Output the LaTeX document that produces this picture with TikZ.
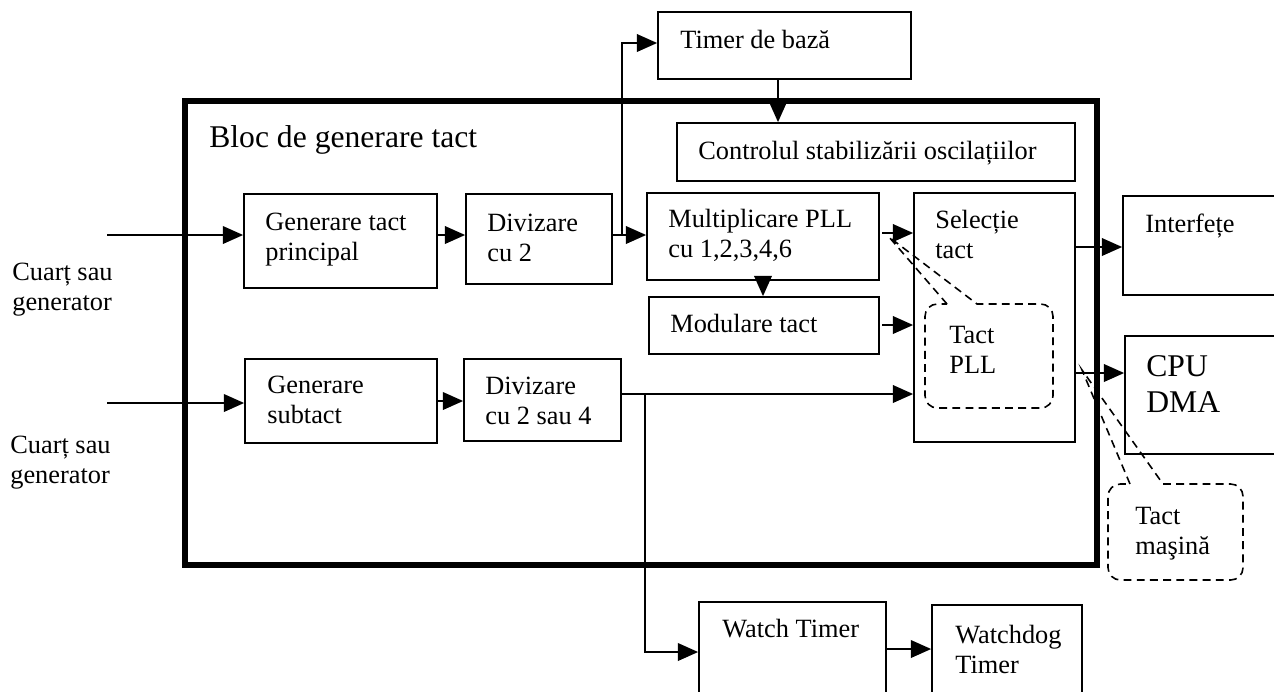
\documentclass[tikz,border=0pt]{standalone}
\usepackage{fontspec}
\setmainfont{Liberation Serif}
\usetikzlibrary{arrows.meta,positioning,fit}

\newcommand{\txtsize}{\fontsize{15}{17.6}\selectfont}
\newcommand{\bigsize}{\fontsize{18}{21}\selectfont}
\newcommand{\rows}[1]{\begin{tabular}[t]{@{}l@{}}#1\end{tabular}}

\begin{document}
\begin{tikzpicture}[
  x=0.02cm,y=-0.02cm,
  box/.style={draw,line width=1pt,inner sep=0pt},
  frame/.style={draw,line width=3.5pt,inner sep=0pt},
  lbl/.style={anchor=base west,inner sep=0pt,font=\txtsize},
  biglbl/.style={lbl,font=\bigsize},
  arr/.style={-{Triangle[length=11.5pt,width=10pt]},line width=1pt},
  note/.style={draw,line width=0.9pt,dash pattern=on 4.5pt off 3pt}
]
\useasboundingbox (0,0) rectangle (1274,691);
\node[frame,fit={(185,101) (1097,565)}] (bloc) {};
\node[biglbl] (blocT) at (209,147) {Bloc de generare tact};
\node[box,fit={(658,12) (911,79)}] (timer) {};
\node[lbl] (timerT) at (680,48) {Timer de bază};
\node[box,fit={(677,123) (1075,181)}] (ctrl) {};
\node[lbl] (ctrlT) at (698,159) {Controlul stabilizării oscilațiilor};
\node[box,fit={(244,194) (437,288)}] (gtp) {};
\node[lbl] (gtpT) at (265,230) {\rows{Generare tact\\principal}};
\node[box,fit={(466,194) (612,284)}] (d2) {};
\node[lbl] (d2T) at (487,231) {\rows{Divizare\\cu 2}};
\node[box,fit={(647,193) (879,280)}] (mul) {};
\node[lbl] (mulT) at (668,227) {\rows{Multiplicare PLL\\cu 1,2,3,4,6}};
\node[box,fit={(649,297) (879,354)}] (mod) {};
\node[lbl] (modT) at (670,332) {Modulare tact};
\node[box,fit={(914,193) (1075,442)}] (sel) {};
\node[lbl] (selT) at (935,228) {\rows{Selecție\\tact}};
\node[box,fit={(245,359) (437,443)}] (gst) {};
\node[lbl] (gstT) at (267,393) {\rows{Generare\\subtact}};
\node[box,fit={(464,359) (621,441)}] (d24) {};
\node[lbl] (d24T) at (485,394) {\rows{Divizare\\cu 2 sau 4}};
\node[box,fit={(1123,196) (1300,295)}] (interf) {};
\node[lbl] (interfT) at (1145,232) {Interfețe};
\node[box,fit={(1125,336) (1300,454)}] (cpu) {};
\node[biglbl] (cpuT) at (1146,376) {\rows{CPU\\DMA}};
\node[box,fit={(699,602) (886,720)}] (watch) {};
\node[lbl] (watchT) at (722,637) {Watch Timer};
\node[box,fit={(932,605) (1082,720)}] (wdog) {};
\node[lbl] (wdogT) at (955,643) {\rows{Watchdog\\Timer}};
\node[lbl] (src1) at (12,280) {\rows{Cuarț sau\\generator}};
\node[lbl] (src2) at (10,453) {\rows{Cuarț sau\\generator}};
\coordinate (in1) at (107,235);
\coordinate (in2) at (107,403);
\draw[arr] (in1) -- (in1 -| gtp.west);
\draw[arr] (in2) -- (in2 -| gst.west);
\draw[arr] (gtp.east |- in1) -- (d2.west |- in1);
\draw[arr] (gst.east |- 0,401) -- (d24.west |- 0,401);
\draw[arr] (d2.east |- in1) -- (mul.west |- in1);
\coordinate (br1) at (622,235);
\coordinate (tb) at (622,43);
\draw[arr] (br1) -- (tb) -- (tb -| timer.west);
\coordinate (tc) at (778,79);
\draw[arr] (tc) -- (tc |- ctrl.north);
\draw[arr] (mul.south) -- (mul.south |- mod.north);
\coordinate (m1) at (882,233);
\coordinate (m2) at (882,325);
\draw[arr] (m1) -- (m1 -| sel.west);
\draw[arr] (m2) -- (m2 -| sel.west);
\coordinate (s3) at (621,394);
\draw[arr] (s3) -- (s3 -| sel.west);
\coordinate (br2) at (645,394);
\coordinate (wb) at (645,652);
\draw[arr] (br2) -- (wb) -- (wb -| watch.west);
\coordinate (o1) at (1075,247);
\coordinate (o2) at (1075,373);
\draw[arr] (o1) -- (o1 -| interf.west);
\draw[arr] (o2) -- (o2 -| cpu.west);
\coordinate (w1) at (886,649);
\draw[arr] (w1) -- (w1 -| wdog.west);
\draw[note] (947,304) -- (889,237) -- (977,304) -- (990,304) [rounded corners=7pt] -- (1053,304) -- (1053,408) -- (925,408) -- (925,304) -- (947,304);
\node[lbl] (pllT) at (949,343) {\rows{Tact\\PLL}};
\draw[note] (1130,484) -- (1082,370) -- (1163,484) -- (1175,484) [rounded corners=7pt] -- (1243,484) -- (1243,580) -- (1108,580) -- (1108,484) -- (1130,484);
\node[lbl] (masT) at (1135,524) {\rows{Tact\\maşină}};
\end{tikzpicture}
\end{document}
